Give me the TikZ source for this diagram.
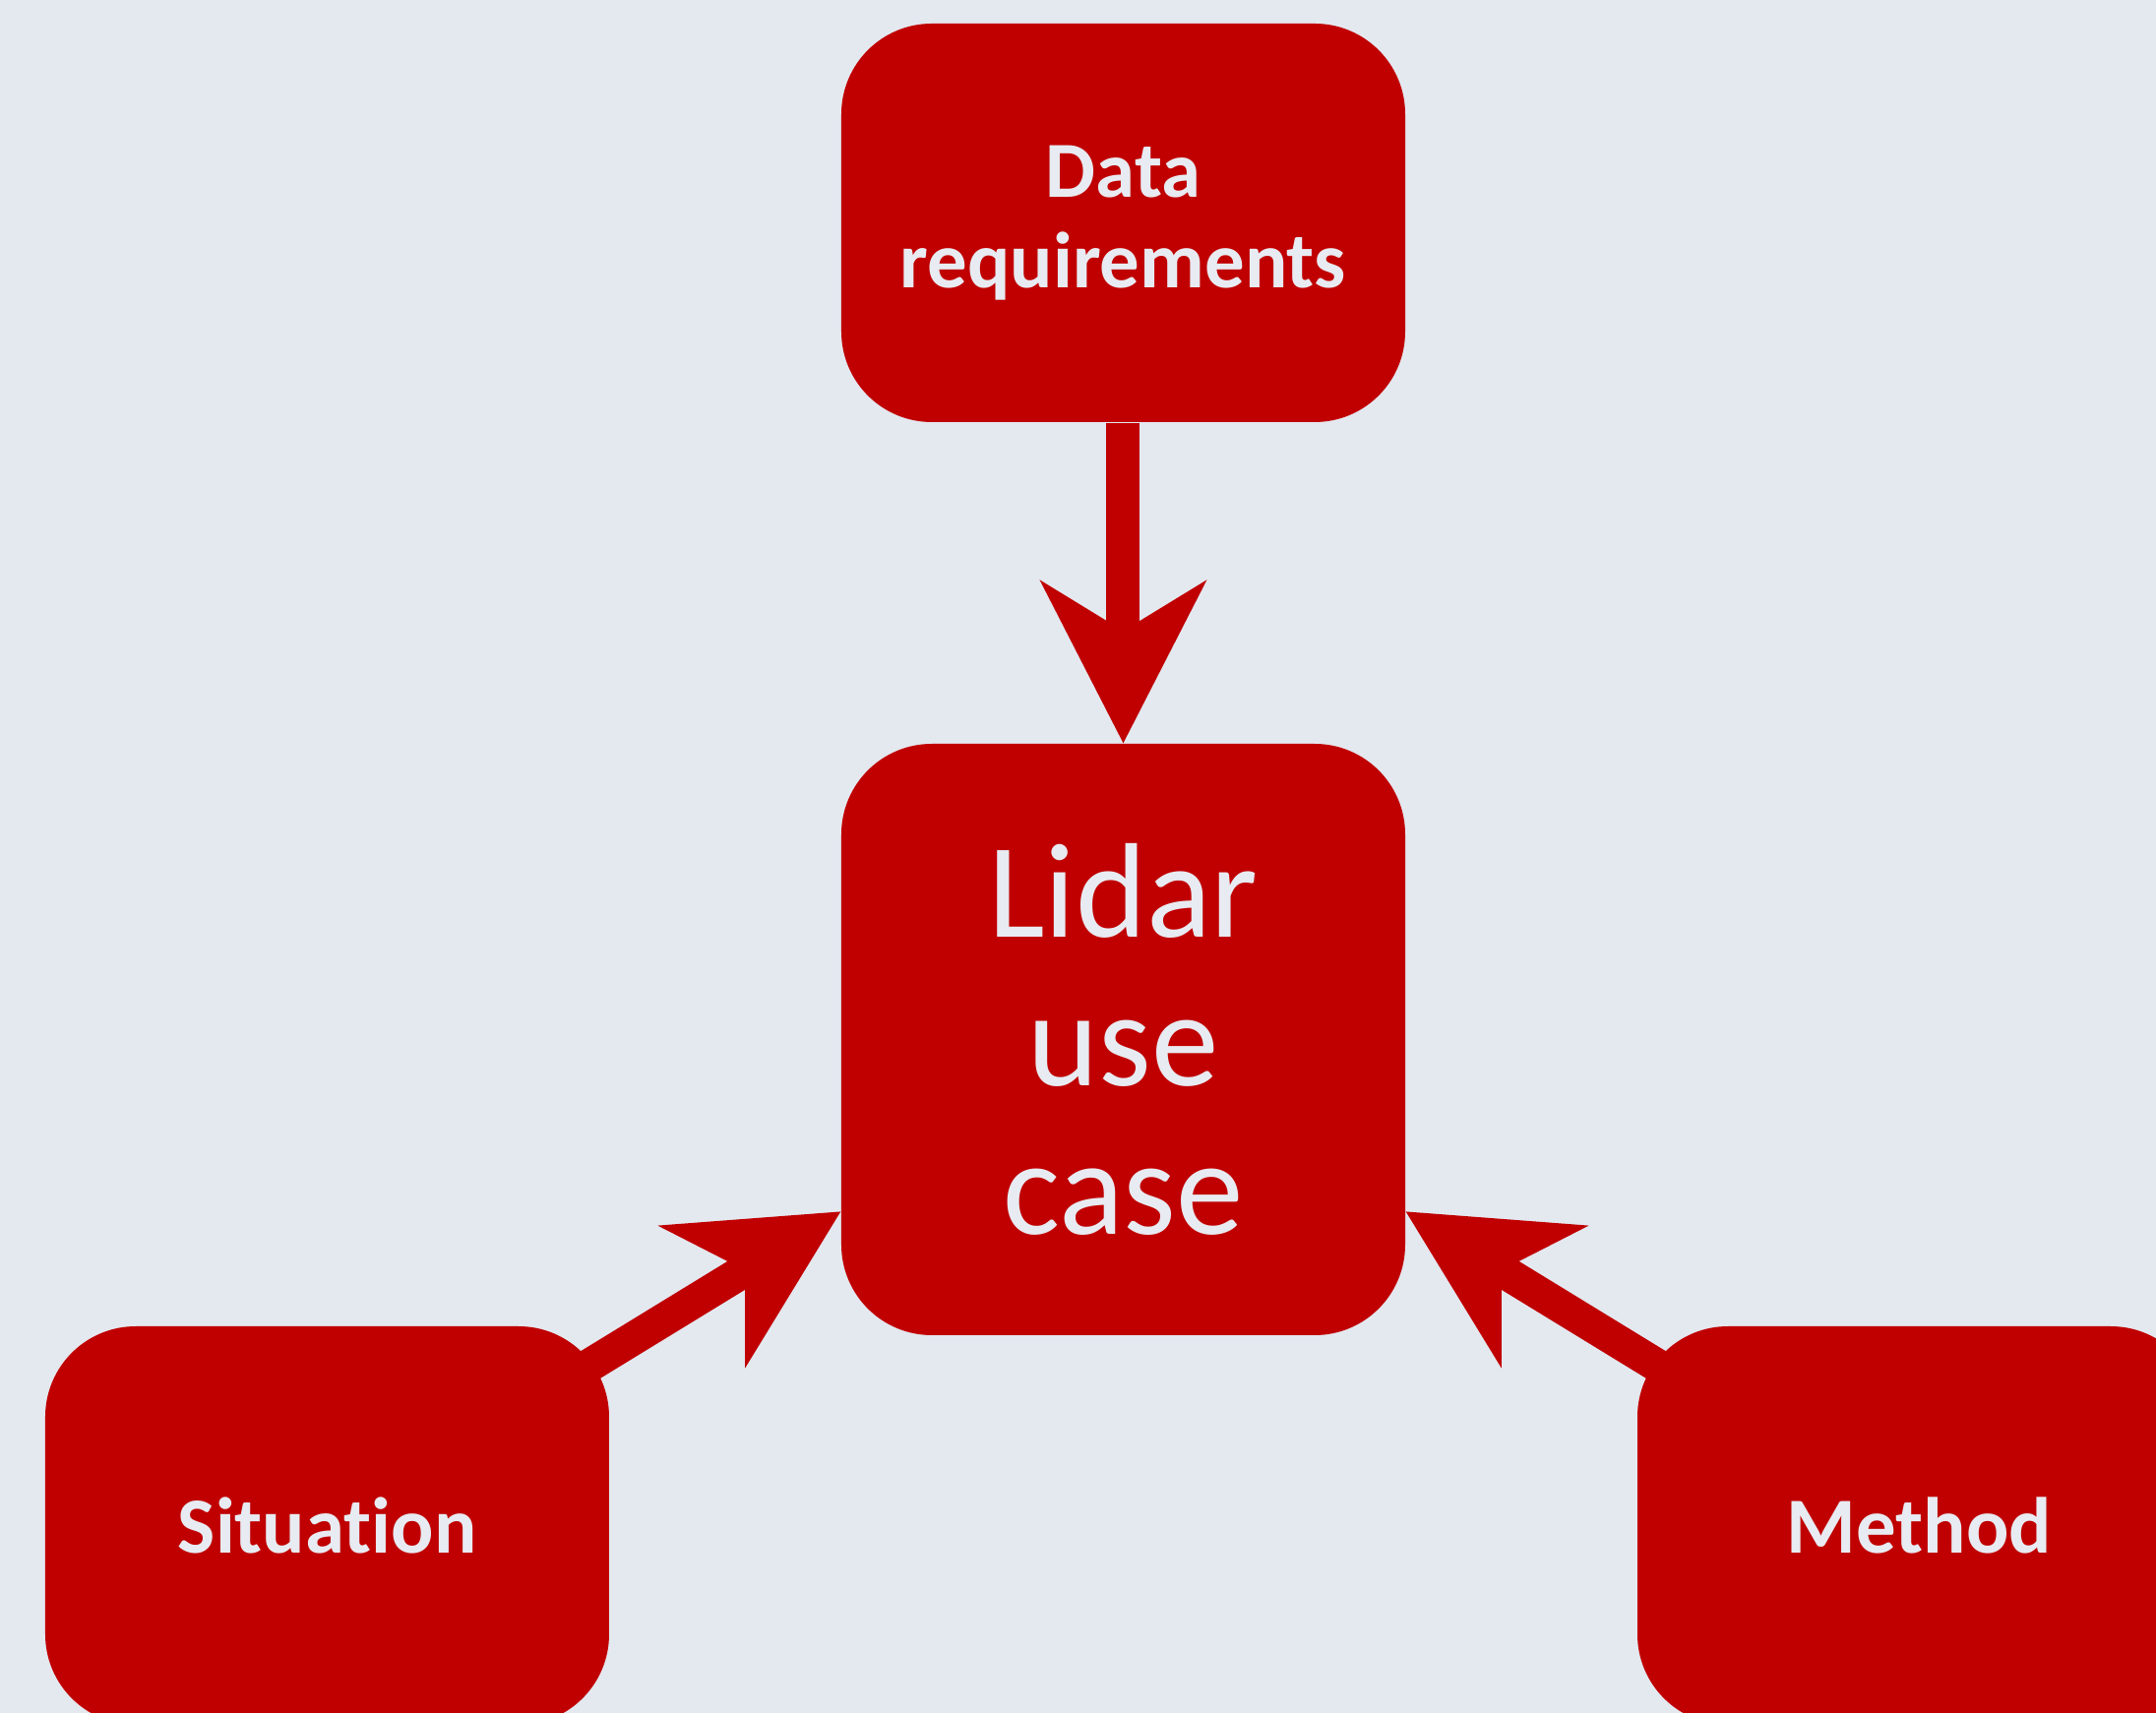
\documentclass[tikz,border=0pt]{standalone}
\usepackage{fontspec}
\setmainfont{Carlito}[Ligatures={NoCommon}]
\usepackage{tikz}
\usetikzlibrary{positioning}
\usetikzlibrary{arrows.meta}
\definecolor{lidarred}{HTML}{C00000}
\definecolor{bgcol}{HTML}{E4E8EF}
\definecolor{txtcol}{HTML}{E8EBF1}

\begin{document}
\begin{tikzpicture}[box/.style={rectangle,rounded corners=0.92cm,fill=lidarred,text=txtcol,inner sep=0pt,align=center,minimum width=5.73cm,minimum height=4.05cm,font=\fontsize{23pt}{26pt}\selectfont\bfseries},
		fat/.style={-{Stealth[length=1.66cm,width=1.7cm,inset=0.52cm,line width=0pt]},line width=0.34cm,color=lidarred}]

		  % Hintergrund
		  \fill[bgcol] (-11.415,-6.845) rectangle (10.495,10.565);
		  \useasboundingbox (-11.415,-6.845) rectangle (10.495,10.565);

		  % Mitte
		  \node[box,minimum height=6.01cm,font=\fontsize{39pt}{43pt}\selectfont] (L) {Lidar\\use\\case};

		  % oben und unten
		  \node[box] (DR) [above=8.3cm of L.center,anchor=center] {Data\\requirements};
		  \node[box] (S)  [below left=4.94cm and 8.09cm of L.center,anchor=center] {Situation};
		  \node[box] (M)  [below right=4.94cm and 8.09cm of L.center,anchor=center] {Method};

		  \path[fat]
			(DR) edge (L)
			(S)  edge[shorten <=-0.3cm] (L)
			(M)  edge[shorten <=-0.3cm] (L);

		\end{tikzpicture}
\end{document}
